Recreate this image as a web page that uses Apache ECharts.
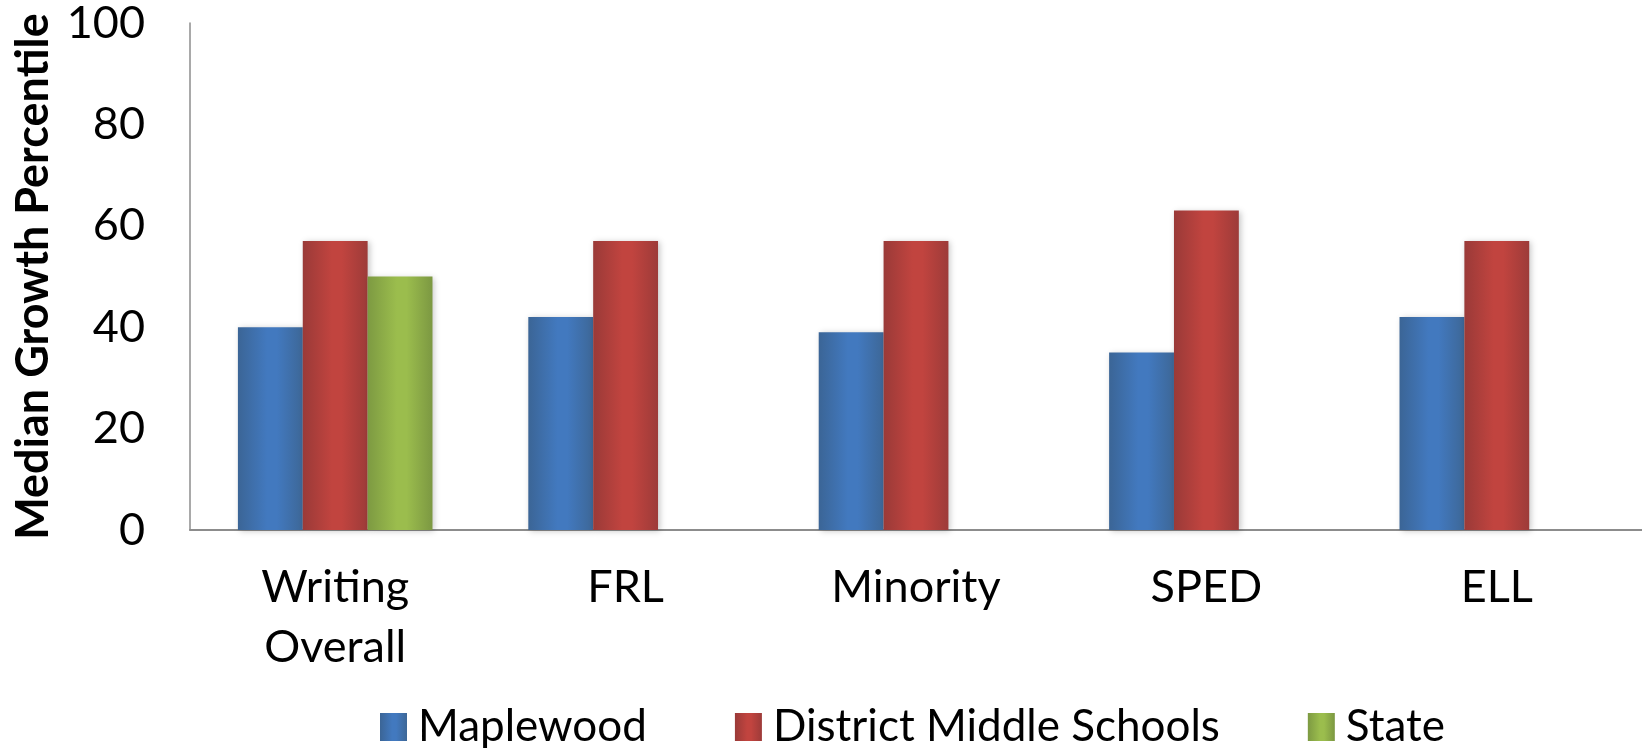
<!DOCTYPE html>
<html>
<head>
<meta charset="utf-8">
<script src="https://cdn.jsdelivr.net/npm/echarts@6/dist/echarts.min.js"></script>
<style>
  html, body { margin: 0; padding: 0; background: #ffffff; }
  #chart { width: 1642px; height: 748px; }
</style>
</head>
<body>
<div id="chart"></div>
<script>
// Median growth percentile by student group
const categories = ['Writing\nOverall', 'FRL', 'Minority', 'SPED', 'ELL'];
const maplewood = [40, 42, 39, 35, 42];
const districtMiddle = [57, 57, 57, 63, 57];
const state = [50, null, null, null, null];
const yTicks = [0, 20, 40, 60, 80, 100];

const FONT = 'Lato, "Open Sans", sans-serif';

// Horizontal shading across each bar: darker edges, lighter middle
function shade(edgeL, mid, edgeR) {
  return new echarts.graphic.LinearGradient(0, 0, 1, 0, [
    { offset: 0, color: edgeL },
    { offset: 0.45, color: mid },
    { offset: 0.6, color: mid },
    { offset: 1, color: edgeR }
  ]);
}

const barShadow = {
  shadowBlur: 6,
  shadowColor: 'rgba(0,0,0,0.22)',
  shadowOffsetX: 2,
  shadowOffsetY: 1
};

const chart = echarts.init(document.getElementById('chart'), null, { renderer: 'canvas' });

chart.setOption({
  backgroundColor: '#ffffff',
  animation: false,
  grid: {
    left: 190, right: 0, top: 23, bottom: 218,
    containLabel: false,
    outerBoundsMode: 'none'
  },
  legend: {
    top: 700,
    left: 375,
    itemWidth: 27,
    itemHeight: 28,
    itemGap: 88,
    icon: 'rect',
    textStyle: { fontFamily: FONT, fontSize: 44, color: '#000', padding: [0, 0, 0, 6] },
    data: ['Maplewood', 'District Middle Schools', 'State']
  },
  xAxis: {
    type: 'category',
    data: categories,
    axisLine: { lineStyle: { color: '#8c8c8c', width: 2 } },
    axisTick: { show: false },
    axisLabel: {
      fontFamily: FONT, fontSize: 45, color: '#000',
      lineHeight: 60, margin: 27, interval: 0
    },
    splitLine: { show: false }
  },
  yAxis: {
    type: 'value',
    min: yTicks[0],
    max: yTicks[yTicks.length - 1],
    interval: yTicks[1] - yTicks[0],
    name: 'Median Growth Percentile',
    nameLocation: 'middle',
    nameGap: 128,
    nameRotate: 90,
    nameTextStyle: { fontFamily: FONT, fontSize: 45, fontWeight: 'bold', color: '#000' },
    axisLine: { show: true, lineStyle: { color: '#8c8c8c', width: 1.5 } },
    axisTick: { show: false },
    axisLabel: { fontFamily: FONT, fontSize: 45, color: '#000', margin: 45 },
    splitLine: { show: false }
  },
  series: [
    {
      name: 'Maplewood',
      type: 'bar',
      data: maplewood,
      barGap: '0%',
      barCategoryGap: '33%',
      itemStyle: Object.assign({ color: shade('#3b6596', '#4279bf', '#3d6797') }, barShadow)
    },
    {
      name: 'District Middle Schools',
      type: 'bar',
      data: districtMiddle,
      itemStyle: Object.assign({ color: shade('#9a3a38', '#c1443f', '#9d3b39') }, barShadow)
    },
    {
      name: 'State',
      type: 'bar',
      data: state,
      itemStyle: Object.assign({ color: shade('#7d9a42', '#9bbd4d', '#7c9842') }, barShadow)
    }
  ]
});
</script>
</body>
</html>
